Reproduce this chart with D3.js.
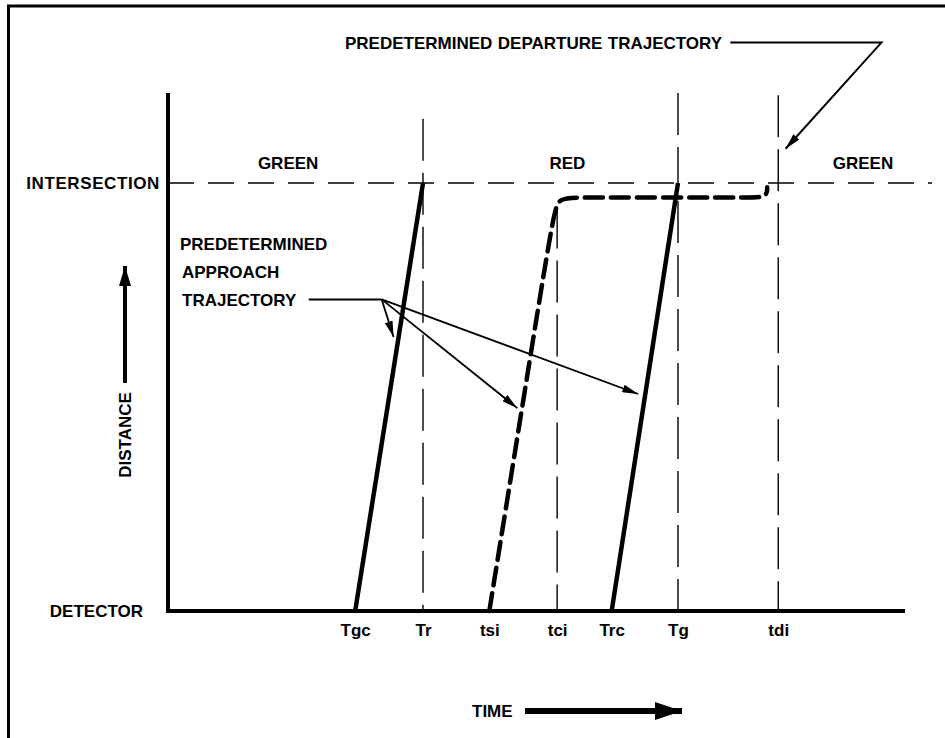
<!DOCTYPE html>
<html>
<head>
<meta charset="utf-8">
<script src="https://cdn.jsdelivr.net/npm/d3@7"></script>
<style>
  html, body { margin: 0; padding: 0; background: #fff; }
  svg text { font-family: "Liberation Sans", Arial, sans-serif; font-weight: bold; fill: #000; }
</style>
</head>
<body>
<svg id="chart" width="945" height="738"></svg>
<script>
// ---- data ----
const tickLabels = ["Tgc", "Tr", "tsi", "tci", "Trc", "Tg", "tdi"];
const tickTimes  = [25.4, 34.6, 43.6, 52.8, 60.2, 69.2, 82.8];
const levelLabels = ["DETECTOR", "INTERSECTION"];
const levelValues = [0, 1];
const phaseLabels = ["GREEN", "RED", "GREEN"];
const phaseTimes  = [16.3, 54.2, 94.3];
// vertical signal/event lines: time, top distance
const markerTimes = [34.6, 52.8, 69.2, 82.8];
const markerTops  = [1.15, 0.945, 1.21, 1.205];
// trajectories (time, distance)
const approach1 = [[25.4, 0], [34.6, 1]];
const approach2 = [[60.2, 0], [69.2, 1]];
const delayed   = [[43.6, 0], [48.0, 0.47], [52.3, 0.93], [53.0, 0.966], [56, 0.966],
                   [70, 0.966], [78.5, 0.966], [81.3, 0.966], [81.3, 0.99]];
// annotation anchors (time, distance)
const approachLeader = [[19.1, 0.728], [29.0, 0.728]];
const approachTips   = [[30.6, 0.64], [47.4, 0.474], [63.8, 0.507]];
const departLeader   = [[76.3, 1.328], [96.8, 1.328]];
const departTip      = [83.8, 1.08];

// ---- layout ----
const svg = d3.select("#chart");
const x = d3.scaleLinear().domain([0, 100]).range([168, 905]);
const y = d3.scaleLinear().domain([0, 1]).range([611, 183]);
const FS = "17px";

// frame border
svg.append("line").attr("x1", 7).attr("x2", 945).attr("y1", 6).attr("y2", 6)
  .attr("stroke", "#000").attr("stroke-width", 3);
svg.append("line").attr("x1", 8.5).attr("x2", 8.5).attr("y1", 5).attr("y2", 738)
  .attr("stroke", "#000").attr("stroke-width", 3);

// arrow markers
const defs = svg.append("defs");
function marker(id, w, h) {
  defs.append("marker").attr("id", id)
    .attr("viewBox", `0 ${-h/2} ${w} ${h}`)
    .attr("refX", w).attr("refY", 0)
    .attr("markerWidth", w).attr("markerHeight", h)
    .attr("markerUnits", "userSpaceOnUse")
    .attr("orient", "auto")
    .append("path").attr("d", `M0,${-h/2}L${w},0L0,${h/2}Z`).attr("fill", "#000");
}
marker("thin", 16, 8);
marker("big", 27, 18);
marker("up", 20, 12);

// intersection dashed line
svg.append("line")
  .attr("x1", x(0)).attr("x2", 932).attr("y1", y(1)).attr("y2", y(1))
  .attr("stroke", "#000").attr("stroke-width", 1.6).attr("stroke-dasharray", "26,14");

// vertical dashed marker lines
svg.selectAll(".mk").data(markerTimes).join("line")
  .attr("x1", d => x(d)).attr("x2", d => x(d))
  .attr("y1", (d, i) => y(markerTops[i])).attr("y2", y(0))
  .attr("stroke", "#000").attr("stroke-width", 1.4).attr("stroke-dasharray", "42,12");

// axes
const xAxis = d3.axisBottom(x).tickValues(tickTimes)
  .tickFormat((d, i) => tickLabels[i]).tickSize(0).tickPadding(13);
const gx = svg.append("g").attr("transform", `translate(0,${y(0)})`).call(xAxis);
gx.select(".domain").attr("stroke-width", 4).attr("d", `M${x(0)},0H${x(100)}`);
gx.selectAll("text").style("font-size", FS).style("font-family", "Liberation Sans, Arial, sans-serif").style("font-weight", "bold");

svg.append("line").attr("x1", x(0)).attr("x2", x(0))
  .attr("y1", y(1.21)).attr("y2", y(0) + 2)
  .attr("stroke", "#000").attr("stroke-width", 4);

// level labels
svg.selectAll(".lvl").data(levelValues).join("text")
  .attr("x", (d, i) => i === 0 ? 143 : 160)
  .attr("y", d => y(d)).attr("dy", "0.35em")
  .attr("text-anchor", "end").style("font-size", FS)
  .style("letter-spacing", (d, i) => i === 1 ? "0.6px" : "0px")
  .text((d, i) => levelLabels[i]);

// phase labels
svg.selectAll(".ph").data(phaseTimes).join("text")
  .attr("x", d => x(d)).attr("y", y(1) - 20).attr("dy", "0.35em")
  .attr("text-anchor", "middle").style("font-size", FS)
  .text((d, i) => phaseLabels[i]);

// trajectories
const line = d3.line().x(d => x(d[0])).y(d => y(d[1]));
svg.append("path").attr("d", line(approach1)).attr("fill", "none")
  .attr("stroke", "#000").attr("stroke-width", 4.5);
svg.append("path").attr("d", line(approach2)).attr("fill", "none")
  .attr("stroke", "#000").attr("stroke-width", 4.5);
svg.append("path").attr("d", line.curve(d3.curveBasis)(delayed)).attr("fill", "none")
  .attr("stroke", "#000").attr("stroke-width", 4.5).attr("stroke-dasharray", "18,8")
  .attr("stroke-linecap", "round");
line.curve(d3.curveLinear);

// title & departure leader
svg.append("text").attr("x", 345).attr("y", y(1.328)).attr("dy", "0.35em")
  .style("font-size", FS).style("word-spacing", "-2px").attr("xml:space", "preserve")
  .text("PREDETERMINED  DEPARTURE  TRAJECTORY");
svg.append("path").attr("d", line(departLeader.concat([departTip])))
  .attr("fill", "none").attr("stroke", "#000").attr("stroke-width", 2)
  .attr("marker-end", "url(#thin)");

// approach annotation
const noteLines = ["PREDETERMINED", "APPROACH", "TRAJECTORY"];
svg.selectAll(".note").data(noteLines).join("text")
  .attr("x", (d, i) => i === 0 ? 180 : 182)
  .attr("y", (d, i) => 244 + i * 28).attr("dy", "0.35em")
  .style("font-size", FS).text(d => d);
svg.append("path").attr("d", line(approachLeader)).attr("fill", "none")
  .attr("stroke", "#000").attr("stroke-width", 2);
svg.selectAll(".tip").data(approachTips).join("path")
  .attr("d", d => line([approachLeader[1], d]))
  .attr("fill", "none").attr("stroke", "#000").attr("stroke-width", 1.8)
  .attr("marker-end", "url(#thin)");

// axis titles
svg.append("text").attr("transform", `translate(131,435) rotate(-90)`)
  .attr("text-anchor", "middle").style("font-size", FS).text("DISTANCE");
svg.append("line").attr("x1", 125).attr("x2", 125).attr("y1", 383).attr("y2", 266)
  .attr("stroke", "#000").attr("stroke-width", 4).attr("marker-end", "url(#up)");
svg.append("text").attr("x", 472).attr("y", 711).attr("dy", "0.35em")
  .style("font-size", FS).text("TIME");
svg.append("line").attr("x1", 525).attr("x2", 682).attr("y1", 711).attr("y2", 711)
  .attr("stroke", "#000").attr("stroke-width", 6).attr("marker-end", "url(#big)");
</script>
</body>
</html>
